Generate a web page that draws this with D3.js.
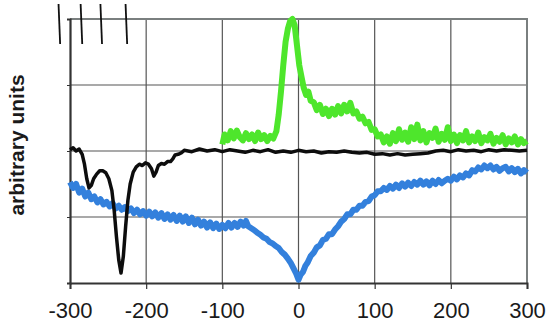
<!DOCTYPE html>
<html>
<head>
<meta charset="utf-8">
<title>arbitrary units</title>
<style>
	body { margin: 0; background: #fff; }
	svg text { font-family: "Liberation Sans", Arial, sans-serif; fill: #1a1a1a; }
</style>
</head>
<body>
<div id="chart"></div>
<script src="https://cdnjs.cloudflare.com/ajax/libs/d3/7.8.5/d3.min.js"></script>
<script>
// x ticks along the bottom, y grid levels (no labels on y)
var xTicks = [-300, -200, -100, 0, 100, 200, 300];
var yGrid = [-2, -1, 0, 1, 2];
// short slanted marks above the frame
var topMarks = [-314, -285, -259, -226];

// blue trace
var blueX = [-300,-296,-292,-288,-284,-280,-276,-272,-268,-264,-260,-256,-252,-248,-244,-240,-236,-232,-228,-224,-220,-216,-212,-208,-204,-200,-196,-192,-188,-184,-180,-176,-172,-168,-164,-160,-156,-152,-148,-144,-140,-136,-132,-128,-124,-120,-116,-112,-108,-104,-100,-96,-92,-88,-84,-80,-76,-72,-69,-66,-62,-58,-54,-50,-46,-42,-38,-34,-30,-26,-22,-18,-14,-10,-6,-3,0,3,6,9,12,16,20,24,28,32,36,40,44,48,52,56,60,64,68,72,76,80,84,88,92,96,100,104,108,112,116,120,124,128,132,136,140,144,148,152,156,160,164,168,172,176,180,184,188,192,196,200,204,208,212,216,220,224,228,232,236,240,244,248,252,256,260,264,268,272,276,280,284,288,292,296,300];
var blueY = [-0.47,-0.56,-0.5,-0.63,-0.57,-0.69,-0.63,-0.73,-0.69,-0.78,-0.73,-0.81,-0.77,-0.84,-0.79,-0.87,-0.83,-0.89,-0.85,-0.91,-0.87,-0.94,-0.89,-0.96,-0.91,-0.98,-0.92,-0.99,-0.93,-1.01,-0.94,-1.03,-0.96,-1.04,-0.97,-1.06,-0.98,-1.07,-0.99,-1.09,-1.01,-1.11,-1.04,-1.13,-1.07,-1.16,-1.08,-1.17,-1.1,-1.18,-1.12,-1.17,-1.09,-1.16,-1.09,-1.15,-1.07,-1.13,-1.06,-1.14,-1.17,-1.2,-1.24,-1.27,-1.31,-1.33,-1.38,-1.4,-1.44,-1.47,-1.53,-1.57,-1.63,-1.7,-1.79,-1.86,-1.95,-1.87,-1.83,-1.74,-1.69,-1.59,-1.54,-1.46,-1.43,-1.35,-1.33,-1.26,-1.26,-1.19,-1.14,-1.07,-1.03,-0.96,-0.96,-0.89,-0.89,-0.83,-0.83,-0.77,-0.76,-0.69,-0.67,-0.61,-0.61,-0.56,-0.59,-0.53,-0.57,-0.51,-0.56,-0.49,-0.54,-0.48,-0.53,-0.47,-0.51,-0.45,-0.51,-0.46,-0.52,-0.45,-0.5,-0.44,-0.49,-0.45,-0.42,-0.45,-0.39,-0.43,-0.37,-0.4,-0.34,-0.37,-0.29,-0.31,-0.25,-0.28,-0.22,-0.26,-0.22,-0.28,-0.24,-0.3,-0.26,-0.24,-0.31,-0.26,-0.32,-0.27,-0.34,-0.29,-0.33];

// green trace
var greenX = [-100,-97,-93,-89,-85,-81,-77,-73,-69,-65,-61,-57,-53,-49,-45,-41,-37,-33,-29,-26,-23,-20,-17,-14,-11,-8,-5,-2,1,4,7,10,13,16,20,24,28,32,36,40,44,48,52,56,60,64,68,72,76,80,84,88,92,96,100,104,108,112,116,120,124,128,132,136,140,144,148,152,156,160,164,168,172,176,180,184,188,192,196,200,204,208,212,216,220,224,228,232,236,240,244,248,252,256,260,264,268,272,276,280,284,288,292,296,300];
var greenY = [0.1,0.25,0.16,0.3,0.19,0.31,0.21,0.16,0.27,0.18,0.25,0.15,0.28,0.18,0.24,0.15,0.23,0.19,0.3,0.55,0.9,1.3,1.65,1.85,1.97,2.0,1.9,1.6,1.3,1.12,0.95,0.85,0.9,0.76,0.74,0.62,0.7,0.56,0.64,0.53,0.64,0.55,0.68,0.57,0.7,0.6,0.73,0.57,0.6,0.49,0.52,0.42,0.44,0.32,0.33,0.22,0.25,0.13,0.22,0.11,0.27,0.15,0.33,0.17,0.28,0.14,0.36,0.18,0.4,0.16,0.3,0.13,0.27,0.2,0.34,0.14,0.26,0.17,0.36,0.15,0.25,0.12,0.24,0.16,0.3,0.13,0.22,0.15,0.28,0.12,0.21,0.16,0.26,0.11,0.2,0.14,0.24,0.1,0.19,0.13,0.22,0.1,0.18,0.12,0.15];

// black trace
var blackX = [-300,-296,-292,-288,-284,-281,-278,-275,-272,-269,-265,-261,-257,-253,-249,-245,-242,-239,-236,-233,-230,-227,-224,-221,-217,-213,-209,-205,-201,-197,-193,-190,-187,-184,-180,-176,-172,-168,-165,-162,-158,-154,-150,-140,-130,-120,-110,-100,-90,-80,-70,-60,-50,-40,-30,-20,-10,0,10,20,30,40,50,60,70,80,90,100,110,120,130,140,150,160,170,180,190,200,210,220,230,240,250,260,270,280,290,300];
var blackY = [0.02,0.05,0.0,0.03,-0.05,-0.2,-0.42,-0.56,-0.52,-0.42,-0.35,-0.3,-0.3,-0.33,-0.42,-0.6,-0.9,-1.3,-1.65,-1.85,-1.6,-1.15,-0.75,-0.5,-0.32,-0.24,-0.2,-0.22,-0.18,-0.2,-0.27,-0.38,-0.32,-0.22,-0.19,-0.2,-0.16,-0.16,-0.12,-0.06,-0.05,-0.03,0.01,-0.01,0.03,0.0,0.02,-0.01,0.02,0.0,-0.02,0.01,-0.01,0.02,-0.02,0.0,-0.02,0.01,-0.01,0.0,-0.03,-0.01,-0.02,0.0,-0.02,-0.03,-0.02,-0.05,-0.04,-0.06,-0.04,-0.06,-0.05,-0.04,-0.03,0.0,0.01,-0.01,0.02,0.0,0.01,-0.01,0.02,0.0,0.02,0.01,0.0,0.01];

var width = 550, height = 325;
var margin = {top: 19, right: 23, bottom: 42, left: 70};

var x = d3.scaleLinear().domain([-300, 300]).range([margin.left, width - margin.right]);
var y = d3.scaleLinear().domain([-2, 2]).range([height - margin.bottom, margin.top]);

var svg = d3.select("#chart").append("svg")
	.attr("width", width)
	.attr("height", height);

// grid
svg.append("g").selectAll("line.v")
	.data(xTicks.slice(1, -1))
	.enter().append("line")
	.attr("x1", function(d) { return x(d); })
	.attr("x2", function(d) { return x(d); })
	.attr("y1", y(2)).attr("y2", y(-2))
	.attr("stroke", "#555").attr("stroke-width", 1.2);

svg.append("g").selectAll("line.h")
	.data(yGrid.slice(1, -1))
	.enter().append("line")
	.attr("x1", x(-300)).attr("x2", x(300))
	.attr("y1", function(d) { return y(d); })
	.attr("y2", function(d) { return y(d); })
	.attr("stroke", "#555").attr("stroke-width", 1.2);

// frame top/right
svg.append("path")
	.attr("d", "M" + x(-300) + "," + y(2) + "H" + x(300) + "V" + y(-2))
	.attr("fill", "none").attr("stroke", "#7a7f7f").attr("stroke-width", 2);

// bottom axis
var xAxis = svg.append("g")
	.attr("transform", "translate(0," + y(-2) + ")")
	.call(d3.axisBottom(x).tickValues(xTicks).tickSize(6).tickPadding(13)
		.tickFormat(function(d) { return String(d); }));
xAxis.select(".domain").attr("stroke", "#333").attr("stroke-width", 2);
xAxis.selectAll(".tick line").attr("stroke", "#333").attr("stroke-width", 1.2);
xAxis.selectAll("text").style("font-size", "22px").attr("fill", "#1a1a1a");

// left axis, no labels
var yAxis = svg.append("g")
	.attr("transform", "translate(" + x(-300) + ",0)")
	.call(d3.axisLeft(y).tickValues(yGrid).tickSize(3).tickFormat(""));
yAxis.select(".domain").attr("stroke", "#333").attr("stroke-width", 2.2);
yAxis.selectAll(".tick line").attr("stroke", "#333");

// traces
var line = d3.line()
	.x(function(d) { return x(d[0]); })
	.y(function(d) { return y(d[1]); });

function draw(xs, ys, color, w) {
	svg.append("path")
		.datum(d3.zip(xs, ys))
		.attr("d", line)
		.attr("fill", "none")
		.attr("stroke", color)
		.attr("stroke-width", w)
		.attr("stroke-linejoin", "round");
}
draw(blueX, blueY, "#3380dc", 6);
draw(greenX, greenY, "#4ee62c", 6);
draw(blackX, blackY, "#0d0d0d", 3.5);

// slanted marks at top
svg.append("g").selectAll("line")
	.data(topMarks)
	.enter().append("line")
	.attr("x1", function(d) { return x(d) - 0.8; })
	.attr("x2", function(d) { return x(d) + 0.8; })
	.attr("y1", 4).attr("y2", 44)
	.attr("stroke", "#111").attr("stroke-width", 1.8);

// y label
svg.append("text")
	.attr("transform", "translate(24,145) rotate(-90)")
	.attr("text-anchor", "middle")
	.style("font-size", "21px")
	.style("font-weight", "bold")
	.text("arbitrary units");
</script>
</body>
</html>
